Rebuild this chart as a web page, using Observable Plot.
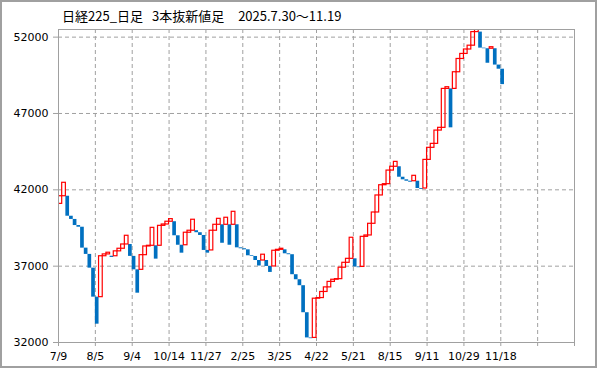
<!DOCTYPE html>
<html><head><meta charset="utf-8">
<script src="https://cdn.jsdelivr.net/npm/d3@7"></script>
<script src="https://cdn.jsdelivr.net/npm/@observablehq/plot@0.6"></script>
<style>
body{margin:0;background:#fff;}
#wrap{position:relative;width:599px;height:369px;overflow:hidden;}
#border{position:absolute;left:0;top:0;width:597px;height:368px;box-sizing:border-box;border:2px solid #a0a0a0;pointer-events:none;}
#title{position:absolute;left:62px;top:8px;font-family:"Noto Sans CJK JP";font-size:13px;line-height:16px;white-space:pre;color:#000;}
</style></head><body>
<div id="wrap"><div id="chart"></div><div id="title"></div><div id="border"></div></div>
<script>
const titleParts = ["日経225_日足", "3本抜新値足", "2025.7.30〜11.19"];
const tickLabels = ["7/9","8/5","9/4","10/14","11/27","2/25","3/25","4/22","5/21","8/15","9/11","10/29","11/18"];
const yTicks = [32000, 37000, 42000, 47000, 52000];
// three-line-break bricks: open and close of each brick, in order
const opens = [
41080,41580,41580,40270,40060,39660,39550,38180,37770,36870,
34970,34970,37650,37770,37650,37650,37970,38140,38420,38420,
37640,36760,36760,37720,38290,38335,38335,38335,39640,39730,
39910,39910,38990,38370,38370,39190,39320,39320,39190,39010,
38030,38030,39320,39710,39710,39710,39710,39710,39710,38200,
38140,38070,37680,37635,37370,37370,37370,36980,36980,38010,
38070,38070,37810,37750,36440,36110,35720,33950,32300,32300,
34870,34910,35310,35610,35970,36110,36150,36900,37220,37480,
37480,36950,36950,38920,39010,39775,40515,41630,42300,42370,
43260,43510,43510,42825,42655,42563,42563,42563,42085,42085,
43960,44750,45010,45880,46060,48610,48610,48610,49700,50570,
50900,51190,51440,52330,52330,51280,51240,51240,51240,50170,
49900];
const closes = [
41580,42460,40270,40060,39660,39550,38180,37770,36870,34970,
33200,37650,37770,37880,37570,37970,38140,38420,38990,37640,
36760,35230,37720,38290,38335,39510,37460,39640,39730,39910,
40080,38990,38370,37850,39190,39320,40040,39190,39010,38030,
37850,39320,39710,40100,38500,40170,38370,40560,38200,38140,
38070,37680,37635,37370,37010,37750,36980,36590,38010,38070,
38140,37810,37750,36440,36110,35720,33950,32300,32250,34870,
34910,35310,35610,35970,36110,36150,36900,37220,37480,38860,
36950,36900,38920,39010,39775,40515,41630,42300,42370,43260,
43510,43830,42825,42655,42563,42498,42917,42085,42030,43960,
44750,45010,45880,46060,48610,48720,46060,49700,50570,50900,
51190,51440,52330,52550,51280,51240,50290,51340,50170,49900,
48890];

const bricks = opens.map((o, i) => ({i, open: o, close: closes[i]}));
const ups = bricks.filter(d => d.close > d.open);
const downs = bricks.filter(d => d.close <= d.open);
const xTicks = d3.range(0, 141, 10);

const chart = Plot.plot({
  width: 599, height: 369,
  marginLeft: 58, marginRight: 25, marginTop: 29, marginBottom: 27,
  x: {domain: [0, 140]},
  y: {domain: [32000, 52500]},
  style: {fontFamily: "DejaVu Sans", fontSize: "11px", color: "#000", background: "transparent"},
  marks: [
    Plot.gridX(xTicks, {stroke: "#a0a0a0", strokeOpacity: 1, strokeDasharray: "4,3"}),
    Plot.gridY(yTicks.slice(1), {stroke: "#a0a0a0", strokeOpacity: 1, strokeDasharray: "4,3"}),
    Plot.rect(downs, {x1: d => d.i, x2: d => d.i + 1, y1: "open", y2: "close", fill: "#0070c0", clip: true}),
    Plot.rect(ups, {x1: d => d.i, x2: d => d.i + 1, y1: "open", y2: "close", fill: "none", stroke: "#ff0000", strokeWidth: 1.2, clip: true}),
    Plot.frame({stroke: "#a0a0a0"}),
    Plot.axisX(xTicks, {tickSize: 4, tickPadding: 6, stroke: "#a0a0a0", fill: "#000", tickFormat: t => tickLabels[t / 10] ?? "", label: null}),
    Plot.axisY(yTicks, {tickSize: 5, tickPadding: 5, stroke: "#a0a0a0", fill: "#000", tickFormat: d => String(d), label: null})
  ]
});
document.getElementById("chart").appendChild(chart);
const title = document.getElementById("title");
titleParts.forEach((p, k) => {
  const s = document.createElement("span");
  s.textContent = p;
  if (k > 0) s.style.marginLeft = (k === 1 ? 9 : 14) + "px";
  title.appendChild(s);
});
</script>
</body></html>
